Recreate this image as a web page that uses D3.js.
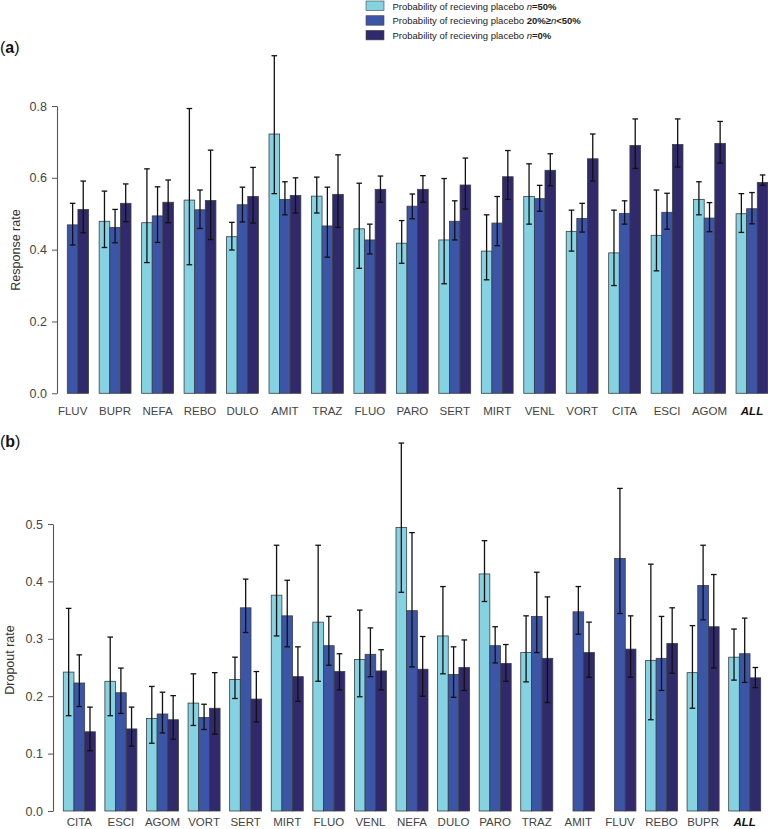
<!DOCTYPE html>
<html>
<head>
<meta charset="utf-8">
<script src="https://cdn.jsdelivr.net/npm/d3@7"></script>
<style>
  html, body { margin: 0; padding: 0; background: #fff; }
  svg { display: block; font-family: "Liberation Sans", Arial, sans-serif; }
</style>
</head>
<body>
<svg id="chart" width="768" height="829"></svg>
<script>
// ---------- DATA ----------
const seriesNames = ["n=50%", "20%≥n<50%", "n=0%"];
const seriesColors = ["#84D2E2", "#3C55A6", "#30296B"];

// Panel (a) Response rate
const catsA = ["FLUV","BUPR","NEFA","REBO","DULO","AMIT","TRAZ","FLUO","PARO","SERT","MIRT","VENL","VORT","CITA","ESCI","AGOM","ALL"];
const respLight   = [null, 0.479, 0.475, 0.538, 0.436, 0.722, 0.549, 0.458, 0.418, 0.427, 0.396, 0.548, 0.451, 0.391, 0.440, 0.540, 0.500];
const respLightLo = [null, 0.406, 0.364, 0.358, 0.399, 0.556, 0.502, 0.348, 0.362, 0.305, 0.316, 0.471, 0.396, 0.300, 0.341, 0.497, 0.448];
const respLightHi = [null, 0.563, 0.625, 0.793, 0.476, 0.940, 0.602, 0.585, 0.481, 0.598, 0.497, 0.639, 0.510, 0.510, 0.566, 0.589, 0.556];
const respBlue    = [0.469, 0.462, 0.494, 0.511, 0.525, 0.540, 0.466, 0.427, 0.521, 0.479, 0.474, 0.542, 0.487, 0.501, 0.504, 0.488, 0.514];
const respBlueLo  = [0.413, 0.419, 0.420, 0.459, 0.477, 0.497, 0.379, 0.388, 0.486, 0.427, 0.411, 0.507, 0.449, 0.471, 0.457, 0.450, 0.472];
const respBlueHi  = [0.529, 0.512, 0.575, 0.566, 0.574, 0.589, 0.574, 0.471, 0.555, 0.536, 0.548, 0.579, 0.529, 0.536, 0.557, 0.531, 0.559];
const respDark    = [0.512, 0.529, 0.532, 0.537, 0.548, 0.551, 0.554, 0.568, 0.568, 0.580, 0.603, 0.621, 0.653, 0.690, 0.693, 0.696, 0.587];
const respDarkLo  = [0.447, 0.478, 0.475, 0.428, 0.474, 0.502, 0.462, 0.532, 0.532, 0.513, 0.540, 0.578, 0.591, 0.626, 0.630, 0.641, 0.579];
const respDarkHi  = [0.591, 0.583, 0.594, 0.677, 0.629, 0.600, 0.664, 0.605, 0.606, 0.655, 0.676, 0.667, 0.722, 0.764, 0.764, 0.757, 0.608];
const ticksA = [0.0, 0.2, 0.4, 0.6, 0.8];

// Panel (b) Dropout rate
const catsB = ["CITA","ESCI","AGOM","VORT","SERT","MIRT","FLUO","VENL","NEFA","DULO","PARO","TRAZ","AMIT","FLUV","REBO","BUPR","ALL"];
const dropLight   = [0.242, 0.226, 0.161, 0.188, 0.229, 0.376, 0.329, 0.264, 0.494, 0.305, 0.413, 0.276, null, null, 0.262, 0.241, 0.268];
const dropLightLo = [0.166, 0.166, 0.118, 0.149, 0.196, 0.305, 0.226, 0.199, 0.381, 0.239, 0.365, 0.225, null, null, 0.159, 0.179, 0.228];
const dropLightHi = [0.353, 0.303, 0.217, 0.239, 0.268, 0.463, 0.463, 0.350, 0.641, 0.391, 0.471, 0.340, null, null, 0.430, 0.323, 0.317];
const dropBlue    = [0.223, 0.206, 0.169, 0.163, 0.354, 0.340, 0.288, 0.273, 0.349, 0.238, 0.288, 0.339, 0.347, 0.440, 0.266, 0.393, 0.274];
const dropBlueLo  = [0.182, 0.170, 0.136, 0.142, 0.311, 0.286, 0.254, 0.234, 0.251, 0.198, 0.258, 0.276, 0.308, 0.344, 0.210, 0.333, 0.224];
const dropBlueHi  = [0.272, 0.249, 0.207, 0.186, 0.404, 0.402, 0.339, 0.319, 0.485, 0.286, 0.321, 0.416, 0.391, 0.562, 0.339, 0.463, 0.336];
const dropDark    = [0.138, 0.143, 0.159, 0.179, 0.195, 0.234, 0.243, 0.244, 0.247, 0.250, 0.257, 0.266, 0.276, 0.282, 0.292, 0.321, 0.232];
const dropDarkLo  = [0.105, 0.113, 0.125, 0.134, 0.155, 0.191, 0.211, 0.211, 0.200, 0.210, 0.226, 0.189, 0.233, 0.233, 0.240, 0.249, 0.215];
const dropDarkHi  = [0.181, 0.181, 0.201, 0.241, 0.243, 0.286, 0.274, 0.281, 0.304, 0.298, 0.290, 0.373, 0.329, 0.340, 0.354, 0.412, 0.250];
const ticksB = [0.0, 0.1, 0.2, 0.3, 0.4, 0.5];

// ---------- DRAW ----------
const svg = d3.select("#chart");

function buildRows(cats, vals, los, his) {
  const rows = [];
  cats.forEach((c, i) => {
    for (let s = 0; s < 3; s++) {
      rows.push({ cat: c, s: s, v: vals[s][i], lo: los[s][i], hi: his[s][i] });
    }
  });
  return rows;
}

function panel(cfg) {
  const g = svg.append("g");
  const x = d3.scaleBand().domain(cfg.cats).range(cfg.xRange).paddingInner(cfg.padInner).paddingOuter(0);
  const xs = d3.scaleBand().domain([0, 1, 2]).range([0, x.bandwidth()]).padding(0);
  const y = d3.scaleLinear().domain(cfg.yDomain).range(cfg.yRange);

  const rows = buildRows(cfg.cats, cfg.vals, cfg.los, cfg.his).filter(d => d.v != null);

  // bars
  g.selectAll("rect.bar").data(rows).enter().append("rect")
    .attr("class", "bar")
    .attr("x", d => x(d.cat) + xs(d.s))
    .attr("y", d => y(d.v))
    .attr("width", xs.bandwidth())
    .attr("height", d => y(0) - y(d.v))
    .attr("fill", d => seriesColors[d.s])
    .attr("stroke", "#3a3f44")
    .attr("stroke-width", 0.8);

  // error bars
  const capW = 2.8;
  const eb = g.selectAll("g.err").data(rows.filter(d => d.lo != null)).enter().append("g").attr("class", "err")
    .attr("stroke", "#111").attr("stroke-width", 1.3);
  eb.append("line")
    .attr("x1", d => x(d.cat) + xs(d.s) + xs.bandwidth() / 2)
    .attr("x2", d => x(d.cat) + xs(d.s) + xs.bandwidth() / 2)
    .attr("y1", d => y(d.lo)).attr("y2", d => y(d.hi));
  eb.append("line")
    .attr("x1", d => x(d.cat) + xs(d.s) + xs.bandwidth() / 2 - capW)
    .attr("x2", d => x(d.cat) + xs(d.s) + xs.bandwidth() / 2 + capW)
    .attr("y1", d => y(d.hi)).attr("y2", d => y(d.hi));
  eb.append("line")
    .attr("x1", d => x(d.cat) + xs(d.s) + xs.bandwidth() / 2 - capW)
    .attr("x2", d => x(d.cat) + xs(d.s) + xs.bandwidth() / 2 + capW)
    .attr("y1", d => y(d.lo)).attr("y2", d => y(d.lo));

  // y axis
  const ax = g.append("g").attr("transform", `translate(${cfg.axisX},0)`)
    .call(d3.axisLeft(y).tickValues(cfg.ticks).tickFormat(d3.format(".1f")).tickSize(5).tickSizeOuter(0).tickPadding(5));
  ax.select(".domain").attr("stroke", "#555").attr("stroke-width", 1.1);
  ax.selectAll(".tick line").attr("stroke", "#555");
  ax.selectAll(".tick text").attr("fill", "#444").style("font-size", "12.5px");

  // x labels
  g.selectAll("text.cat").data(cfg.cats).enter().append("text")
    .attr("class", "cat")
    .attr("x", d => x(d) + x.bandwidth() / 2)
    .attr("y", cfg.labelY)
    .attr("text-anchor", "middle")
    .attr("fill", d => d === "ALL" ? "#111" : "#444")
    .style("font-size", "11.5px")
    .style("font-weight", d => d === "ALL" ? "bold" : "normal")
    .style("font-style", d => d === "ALL" ? "italic" : "normal")
    .text(d => d);

  // y title
  g.append("text")
    .attr("transform", `translate(${cfg.titleX},${cfg.titleY}) rotate(-90)`)
    .attr("text-anchor", "middle")
    .attr("fill", "#333")
    .style("font-size", "12.5px")
    .text(cfg.title);

  // panel letter
  const lt = g.append("text").attr("x", 0).attr("y", cfg.letterY).style("font-size", "16px").attr("fill", "#111");
  lt.append("tspan").text("(");
  lt.append("tspan").style("font-weight", "bold").text(cfg.letter);
  lt.append("tspan").text(")");
}

panel({
  cats: catsA,
  vals: [respLight, respBlue, respDark],
  los: [respLightLo, respBlueLo, respDarkLo],
  his: [respLightHi, respBlueHi, respDarkHi],
  xRange: [56.7, 767.9], padInner: 0.25,
  yDomain: [0, 0.8], yRange: [393.3, 106],
  ticks: ticksA, axisX: 57,
  labelY: 415, title: "Response rate", titleX: 20, titleY: 250,
  letter: "a", letterY: 53
});

panel({
  cats: catsB,
  vals: [dropLight, dropBlue, dropDark],
  los: [dropLightLo, dropBlueLo, dropDarkLo],
  his: [dropLightHi, dropBlueHi, dropDarkHi],
  xRange: [63.3, 760.7], padInner: 0.23,
  yDomain: [0, 0.5], yRange: [811, 524],
  ticks: ticksB, axisX: 53,
  labelY: 826, title: "Dropout rate", titleX: 14, titleY: 660,
  letter: "b", letterY: 447
});

// ---------- LEGEND ----------
const legendParts = [
  [["Probability of recieving placebo ", ""], ["n", "i"], ["=50%", "b"]],
  [["Probability of recieving placebo ", ""], ["20%≥", "b"], ["n", "i"], ["<50%", "b"]],
  [["Probability of recieving placebo ", ""], ["n", "i"], ["=0%", "b"]]
];
const lg = svg.append("g").attr("transform", "translate(366,1)");
legendParts.forEach((parts, i) => {
  const row = lg.append("g").attr("transform", `translate(0,${i * 14.7})`);
  row.append("rect").attr("width", 18).attr("height", 9.5)
    .attr("fill", seriesColors[i]).attr("stroke", "#444").attr("stroke-width", 0.6);
  const t = row.append("text").attr("x", 26.5).attr("y", 8.5).style("font-size", "9.5px").attr("fill", "#222");
  parts.forEach(p => {
    const ts = t.append("tspan").text(p[0]);
    if (p[1].includes("b")) ts.style("font-weight", "bold");
    if (p[1].includes("i")) ts.style("font-style", "italic");
  });
});
</script>
</body>
</html>
